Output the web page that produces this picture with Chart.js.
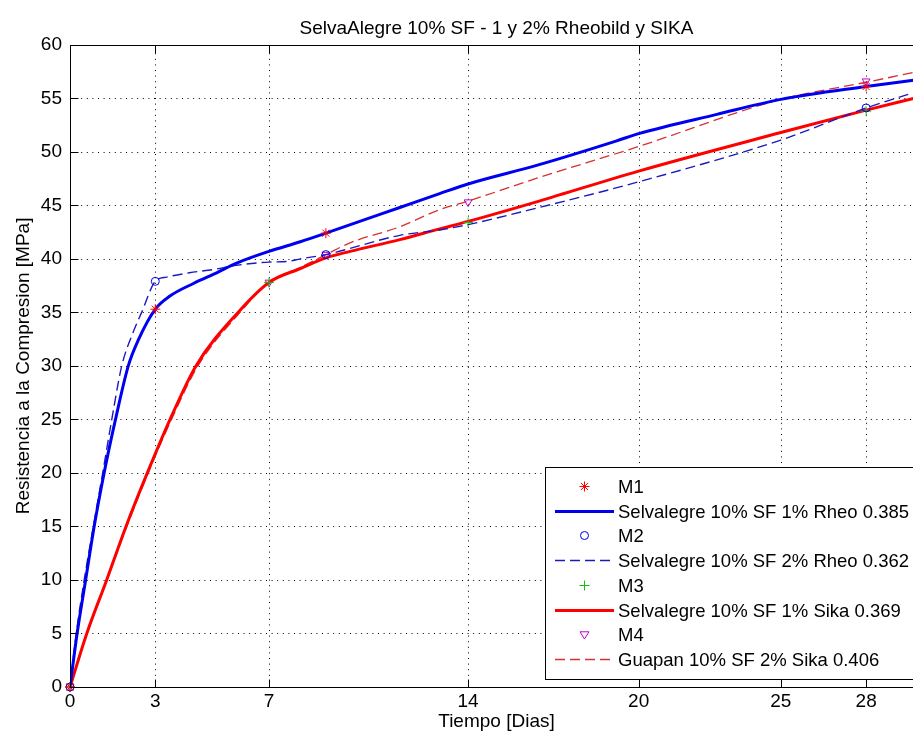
<!DOCTYPE html>
<html>
<head>
<meta charset="utf-8">
<script src="https://cdn.jsdelivr.net/npm/chart.js@4.4.1/dist/chart.umd.min.js"></script>
<style>
html, body { margin: 0; padding: 0; overflow: hidden; background: #ffffff; width: 913px; height: 740px; }
#wrap { position: absolute; left: 0; top: 0; width: 940px; height: 740px; }
</style>
</head>
<body>
<div id="wrap"><canvas id="c" width="940" height="740"></canvas></div>
<script>
// ---------- text ----------
const chartTitle = 'SelvaAlegre 10% SF - 1 y 2% Rheobild y SIKA';
const xTitle = 'Tiempo [Dias]';
const yTitle = 'Resistencia a la Compresion [MPa]';

// ---------- ticks ----------
const xTicks = [0, 3, 7, 14, 20, 25, 28];
const yTicks = [0, 5, 10, 15, 20, 25, 30, 35, 40, 45, 50, 55, 60];

// ---------- legend labels ----------
const labels = [
  'M1',
  'Selvalegre 10% SF 1% Rheo 0.385',
  'M2',
  'Selvalegre 10% SF 2% Rheo 0.362',
  'M3',
  'Selvalegre 10% SF 1% Sika 0.369',
  'M4',
  'Guapan 10% SF 2% Sika 0.406'
];

// ---------- measured points ----------
const m1Days = [0, 3, 9, 28];
const m1Values = [0, 35.3, 42.4, 56.1];
const m2Days = [0, 3, 9, 28];
const m2Values = [0, 37.9, 40.4, 54.1];
const m3Days = [0, 7, 14, 28];
const m3Values = [0, 37.8, 43.4, 53.8];
const m4Days = [0, 7, 9, 14, 28];
const m4Values = [0, 37.8, 40.4, 45.3, 56.6];

// ---------- fitted curves ----------
const rheo1Days   = [0, 0.25, 0.55, 0.85, 1.2, 1.6, 2.05, 2.4, 3, 3.5, 4.34, 5.16, 5.86, 7, 8.1, 9, 11.6, 13, 14, 16.5, 19.2, 20, 22.75, 25, 28, 30];
const rheo1Values = [0, 5, 10, 15, 20, 25, 30, 32.4, 35.3, 36.5, 37.7, 38.7, 39.6, 40.7, 41.6, 42.4, 44.8, 46.1, 47.0, 48.8, 51.0, 51.7, 53.5, 54.9, 56.1, 56.8];

const rheo2Days   = [0, 0.22, 0.5, 0.82, 1.15, 1.47, 1.82, 2.2, 2.52, 3, 3.4, 4.2, 5.04, 5.86, 7, 7.62, 8.1, 9, 11.6, 13, 14, 16.5, 20, 25, 28, 30];
const rheo2Values = [0, 5, 10, 15, 20, 25, 30, 33, 35, 37.9, 38.3, 38.7, 39.0, 39.4, 39.7, 39.75, 40.0, 40.4, 42.2, 42.7, 43.2, 44.8, 47.2, 51.1, 54.1, 55.8];

const sika1Days   = [0, 0.59, 1.29, 1.97, 2.72, 3.52, 4.43, 5.91, 7, 8.1, 9, 9.85, 11.6, 13, 14, 16.5, 20, 25, 28, 30];
const sika1Values = [0, 5, 10, 15, 20, 25, 30, 35, 37.8, 39.1, 40.1, 40.7, 41.8, 42.8, 43.5, 45.4, 48.2, 51.8, 53.9, 55.2];

const guapanDays   = [0, 0.6, 1.3, 2.0, 2.75, 3.57, 4.5, 5.98, 7, 8.1, 9, 9.85, 11.6, 13, 14, 16.5, 20, 25, 28, 30];
const guapanValues = [0, 5, 10, 15, 20, 25, 30, 35, 37.8, 39.2, 40.4, 41.5, 43.0, 44.6, 45.4, 47.6, 50.5, 54.9, 56.5, 57.6];

// ---------- helpers ----------
const FONT = '"Liberation Sans", Arial, Helvetica, sans-serif';
const pts = (xs, ys) => xs.map((x, i) => ({ x: x, y: ys[i] }));

function markerSet(label, xs, ys, style, color, radius, rotation) {
  return {
    label: label, data: pts(xs, ys), showLine: false,
    pointStyle: style, pointRadius: radius, pointHoverRadius: radius,
    pointRotation: rotation || 0, pointBorderWidth: 1,
    borderColor: color, backgroundColor: 'rgba(0,0,0,0)',
    pointBorderColor: color, pointBackgroundColor: 'rgba(0,0,0,0)',
    clip: false, order: 0
  };
}
function lineSet(label, xs, ys, color, width, dash) {
  return {
    label: label, data: pts(xs, ys), showLine: true,
    borderColor: color, borderWidth: width, borderDash: dash,
    pointRadius: 0, pointHoverRadius: 0, cubicInterpolationMode: 'monotone',
    backgroundColor: color, fill: false, order: 0
  };
}

const datasets = [
  markerSet(labels[0], m1Days, m1Values, 'star', '#ff0000', 5),
  lineSet(labels[1], rheo1Days, rheo1Values, '#0000f0', 3, []),
  markerSet(labels[2], m2Days, m2Values, 'circle', '#0000e0', 4),
  lineSet(labels[3], rheo2Days, rheo2Values, '#1a1ac0', 1.4, [10, 5]),
  markerSet(labels[4], m3Days, m3Values, 'cross', '#10c010', 5),
  lineSet(labels[5], sika1Days, sika1Values, '#ff0000', 3, []),
  markerSet(labels[6], m4Days, m4Values, 'triangle', '#c000c8', 4.5, 180),
  lineSet(labels[7], guapanDays, guapanValues, '#d83030', 1.3, [10, 5])
];

// ---------- MATLAB-like frame, grid, ticks and legend ----------
function drawMarker(ctx, style, x, y, r, color, rot) {
  ctx.save();
  ctx.strokeStyle = color; ctx.lineWidth = 1; ctx.setLineDash([]);
  ctx.beginPath();
  if (style === 'star') {
    ctx.moveTo(x - r, y); ctx.lineTo(x + r, y);
    ctx.moveTo(x, y - r); ctx.lineTo(x, y + r);
    const d = r * Math.SQRT1_2;
    ctx.moveTo(x - d, y - d); ctx.lineTo(x + d, y + d);
    ctx.moveTo(x - d, y + d); ctx.lineTo(x + d, y - d);
  } else if (style === 'circle') {
    ctx.arc(x, y, r, 0, Math.PI * 2);
  } else if (style === 'cross') {
    ctx.moveTo(x - r, y); ctx.lineTo(x + r, y);
    ctx.moveTo(x, y - r); ctx.lineTo(x, y + r);
  } else if (style === 'triangle') {
    ctx.moveTo(x - r, y - r * 0.6); ctx.lineTo(x + r, y - r * 0.6); ctx.lineTo(x, y + r); ctx.closePath();
  }
  ctx.stroke();
  ctx.restore();
}

const matlabFrame = {
  id: 'matlabFrame',
  beforeDatasetsDraw(chart) {
    const { ctx, chartArea: a, scales: { x, y } } = chart;
    ctx.save();
    ctx.strokeStyle = '#000000';
    ctx.lineWidth = 1;
    ctx.setLineDash([1, 4.6]);
    xTicks.forEach(v => {
      if (v === 0) return;
      const px = Math.round(x.getPixelForValue(v)) + 0.5;
      ctx.beginPath(); ctx.moveTo(px, a.bottom); ctx.lineTo(px, a.top); ctx.stroke();
    });
    yTicks.forEach(v => {
      if (v === 0 || v === 60) return;
      const py = Math.round(y.getPixelForValue(v)) + 0.5;
      ctx.beginPath(); ctx.moveTo(a.left, py); ctx.lineTo(a.right, py); ctx.stroke();
    });
    ctx.restore();
  },
  afterDatasetsDraw(chart) {
    const { ctx, chartArea: a, scales: { x, y } } = chart;
    ctx.save();
    ctx.setLineDash([]);
    ctx.strokeStyle = '#000000';
    ctx.lineWidth = 1;
    const L = Math.round(a.left) + 0.5, T = Math.round(a.top) + 0.5, B = Math.round(a.bottom) + 0.5, R = Math.round(a.right) + 0.5;
    ctx.beginPath();
    ctx.moveTo(L, T); ctx.lineTo(R, T);
    ctx.moveTo(L, T); ctx.lineTo(L, B); ctx.lineTo(R, B);
    ctx.stroke();
    const tl = 8;
    ctx.beginPath();
    xTicks.forEach(v => {
      const px = Math.round(x.getPixelForValue(v)) + 0.5;
      ctx.moveTo(px, B); ctx.lineTo(px, B - tl);
      ctx.moveTo(px, T); ctx.lineTo(px, T + tl);
    });
    yTicks.forEach(v => {
      const py = Math.round(y.getPixelForValue(v)) + 0.5;
      ctx.moveTo(L, py); ctx.lineTo(L + tl, py);
    });
    ctx.stroke();

    // legend
    const boxL = 545.5, boxT = 467.5, boxB = 679.5, boxR = 936.5;
    ctx.fillStyle = '#ffffff';
    ctx.fillRect(boxL, boxT, boxR - boxL, boxB - boxT);
    ctx.strokeRect(boxL, boxT, boxR - boxL, boxB - boxT);
    const row0 = 486, step = 24.7;
    ctx.font = '18.5px ' + FONT;
    ctx.textAlign = 'left';
    ctx.textBaseline = 'middle';
    chart.data.datasets.forEach((ds, i) => {
      const cy = Math.round(row0 + i * step) + 0.5;
      if (ds.showLine) {
        ctx.save();
        ctx.strokeStyle = ds.borderColor;
        ctx.lineWidth = ds.borderWidth;
        ctx.setLineDash(ds.borderDash || []);
        ctx.beginPath(); ctx.moveTo(555, cy); ctx.lineTo(614, cy); ctx.stroke();
        ctx.restore();
      } else {
        drawMarker(ctx, ds.pointStyle, 584.5, cy, ds.pointRadius, ds.pointBorderColor, ds.pointRotation);
      }
      ctx.fillStyle = '#000000';
      ctx.fillText(ds.label, 618, cy + 1);
    });
    ctx.restore();
  }
};

new Chart(document.getElementById('c'), {
  type: 'scatter',
  data: { datasets: datasets },
  options: {
    responsive: false,
    animation: false,
    devicePixelRatio: 1,
    layout: { padding: { left: 0, right: 17, top: 0, bottom: 0 } },
    plugins: {
      legend: { display: false },
      tooltip: { enabled: false },
      title: {
        display: true, text: chartTitle, fullSize: false, color: '#000000',
        font: { family: FONT, size: 19, weight: 'normal' },
        padding: { top: 17, bottom: 5 }
      }
    },
    scales: {
      x: {
        type: 'linear', min: 0, max: 30,
        grid: { display: false, drawTicks: false, tickLength: 0 },
        border: { display: false },
        afterBuildTicks: s => { s.ticks = xTicks.map(v => ({ value: v })); },
        afterFit: s => { s.height = 53; },
        ticks: { color: '#000000', padding: 3, autoSkip: false, maxRotation: 0, font: { family: FONT, size: 19 } },
        title: { display: true, text: xTitle, color: '#000000', font: { family: FONT, size: 19 }, padding: { top: 0, bottom: 7 } }
      },
      y: {
        type: 'linear', min: 0, max: 60,
        grid: { display: false, drawTicks: false, tickLength: 0 },
        border: { display: false },
        afterBuildTicks: s => { s.ticks = yTicks.map(v => ({ value: v })); },
        afterFit: s => { s.width = 70; },
        ticks: { color: '#000000', padding: 8, autoSkip: false, font: { family: FONT, size: 19 } },
        title: { display: true, text: yTitle, color: '#000000', font: { family: FONT, size: 19 }, padding: { top: 12, bottom: 0 } }
      }
    }
  },
  plugins: [matlabFrame]
});
</script>
</body>
</html>
